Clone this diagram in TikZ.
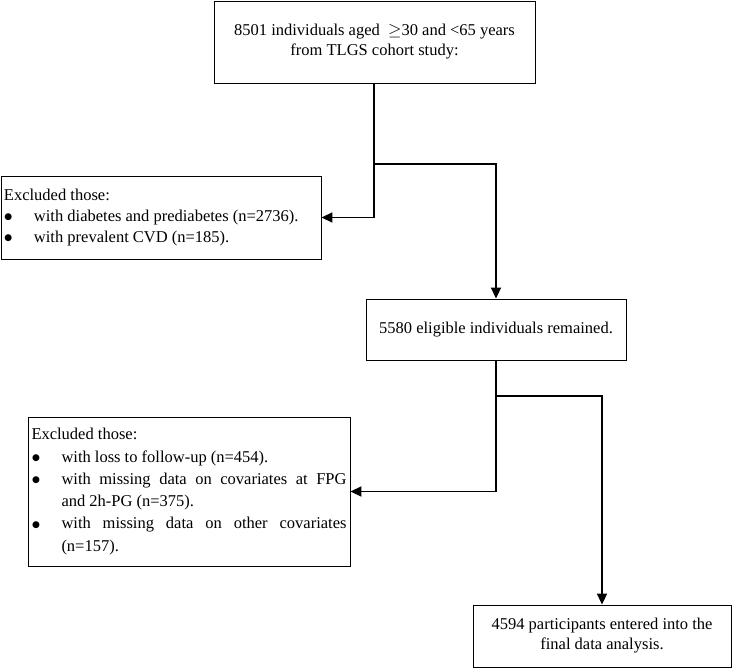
\documentclass[tikz,border=0pt]{standalone}
\usepackage{fontspec}
\setmainfont{Liberation Serif}
\newfontfamily\djv{DejaVu Sans}
\usetikzlibrary{arrows.meta}
\newcommand{\bitem}[1]{\par\noindent\hangindent=30pt\hangafter=1\makebox[30pt][l]{\hspace{0.5pt}\raisebox{1.5pt}{\djv\fontsize{9}{9}\selectfont ●}}#1}
\begin{document}
\begin{tikzpicture}[x=1pt,y=-1pt,
  box/.style={draw=black,line width=0.9pt,inner sep=0pt,font=\fontsize{16.5}{20}\selectfont},
  conn/.style={line width=1.8pt},
  arr/.style={conn,-{Triangle[length=11pt,width=10pt]}}]
\useasboundingbox (0,0) rectangle (732,668);
\node[box,minimum width=321pt,minimum height=82pt,align=center] (b1) at (374.5,42)
  {8501 individuals aged \ \ensuremath{\geq}30 and <65 years\\from TLGS cohort study:};
\node[box,minimum width=320pt,minimum height=83pt,anchor=center] (ex1) at (161,217.5)
  {\parbox{314pt}{\fontsize{16.5}{21}\selectfont\raggedright
   \noindent Excluded those:
   \bitem{with diabetes and prediabetes (n=2736).}
   \bitem{with prevalent CVD (n=185).}}};
\node[box,minimum width=322pt,minimum height=149pt] (ex2) at (189,491.5)
  {\parbox{315pt}{\fontsize{16.5}{22.3}\selectfont
   \noindent Excluded those:
   \bitem{with loss to follow-up (n=454).}
   \bitem{with missing data on covariates at FPG\linebreak and 2h-PG (n=375).}
   \bitem{with missing data on other covariates (n=157).}}};
\node[box,minimum width=260pt,minimum height=61pt] (b2) at (496,329.5)
  {5580 eligible individuals remained.};
\node[box,minimum width=258pt,minimum height=62pt,align=center] (b3) at (602,636)
  {4594 participants entered into the\\final data analysis.};
\coordinate (j1) at (374,164);
\coordinate (j2) at (496,396);
\draw[conn] (b1.south -| j1) -- (j1);
\draw[arr] (j1) |- (ex1.east);
\draw[arr] (j1) -| (b2.north);
\draw[conn] (b2.south) -- (j2);
\draw[arr] (j2) |- (ex2.east);
\draw[arr] (j2) -| (b3.north);
\end{tikzpicture}
\end{document}
